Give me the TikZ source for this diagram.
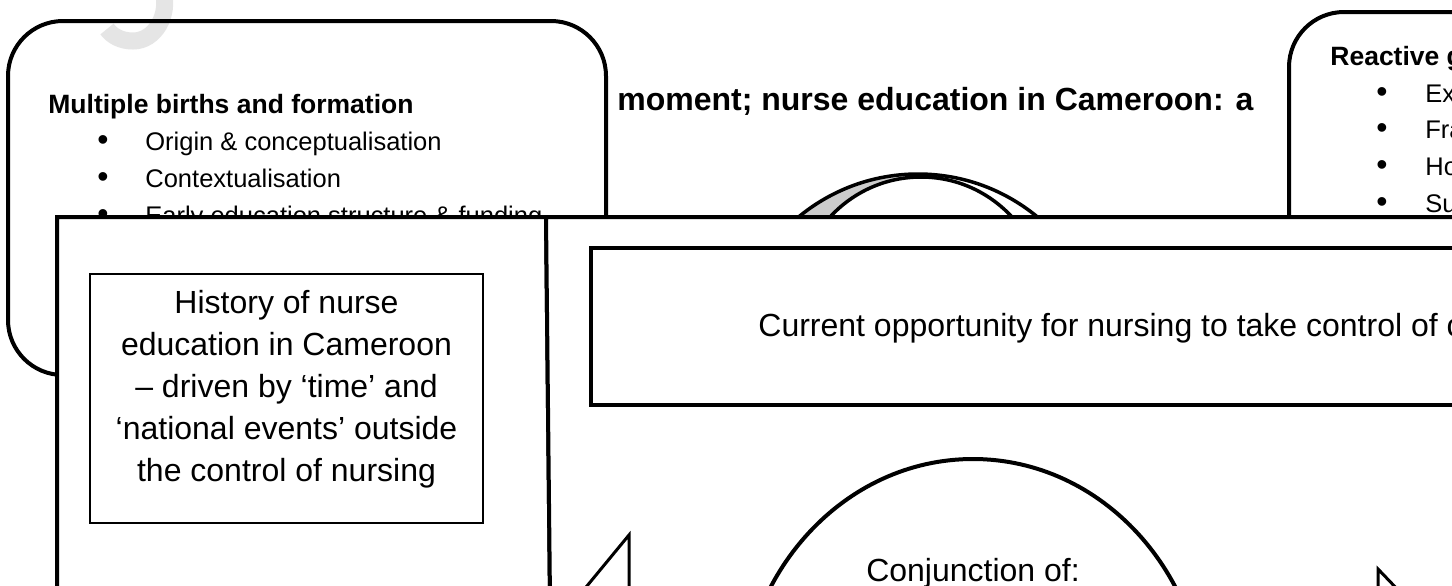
\documentclass[tikz,border=0pt]{standalone}
\usepackage{fontspec}
\setmainfont{Liberation Sans}
\tikzset{
  roundbox/.style={draw,line width=2pt,fill=white,rounded corners=27.5pt},
  panel/.style={draw,line width=2pt,fill=white},
  heading/.style={anchor=base west,inner sep=0pt,font=\bfseries\fontsize{13.25}{16}\selectfont},
  item/.style={anchor=base west,inner sep=0pt,font=\fontsize{12.75}{15}\selectfont},
  dot/.style={anchor=base,inner sep=0pt,font=\fontsize{16}{18}\selectfont},
  bigtext/.style={inner sep=0pt,font=\fontsize{16}{21}\selectfont},
}
\begin{document}
\begin{tikzpicture}[x=0.5pt,y=-0.5pt]
\useasboundingbox (0,0) rectangle (1452,585);
\clip (0,0) rectangle (1452,585);

% top left box, watermark between fill and border
\fill[roundbox,draw=none] (8,21) rectangle (606,375);
\draw[gray!20,line width=8.5pt] (163,-10) .. controls (170,15) and (155,41) .. (133,41) .. controls (121,41) and (112,36) .. (107,29);
\draw[roundbox,fill=none] (8,21) rectangle (606,375);
\node[heading] (births) at (48,113) {Multiple births and formation};
\node[dot] (d1) at (103,150) {•};
\node[item] (origin) at (145,150) {Origin \& conceptualisation};
\node[dot] (d2) at (103,187) {•};
\node[item] (context) at (145,187) {Contextualisation};
\node[dot] (d3) at (103,224) {•};
\node[item] (early) at (145,224) {Early education structure \& funding};

% top right box
\draw[roundbox] (1289,12) rectangle (1700,420);
\node[heading] (reactive) at (1330,65) {Reactive g};
\node[dot] (e1) at (1382,102) {•};
\node[item] (ex) at (1425,102) {Ex};
\node[dot] (e2) at (1382,138) {•};
\node[item] (fra) at (1425,138) {Fra};
\node[dot] (e3) at (1382,175) {•};
\node[item] (ho) at (1425,175) {Ho};
\node[dot] (e4) at (1382,212) {•};
\node[item] (su) at (1425,212) {Su};

\node[anchor=base west,inner sep=0pt,font=\bfseries\fontsize{16}{19}\selectfont] (title) at (617,110) {moment; nurse education in Cameroon: a};

% circular arrow behind the panels
\begin{scope}
\clip (0,0) rectangle (918,217);
\fill[gray!40] (918,361.5) circle[radius=187.5];
\end{scope}
\filldraw[fill=white,line width=1.75pt] (921,300.5) circle[radius=123.5];
\draw[line width=1.75pt] (918,361.5) circle[radius=187.5];

% panels
\draw[panel] (57,217) -- (546,217) -- (550,600) -- (57,600) -- cycle;
\draw[panel] (546,217) -- (1500,217) -- (1500,600) -- (550,600) -- cycle;

\node[draw,line width=0.75pt,minimum width=196.5pt,minimum height=124.5pt] (histbox) at (286.5,398.5) {};
\node[bigtext,align=center] (history) at (286.5,389.5) {History of nurse\\education in Cameroon\\– driven by ‘time’ and\\‘national events’ outside\\the control of nursing};

\draw[line width=2pt] (591,248) rectangle (1600,405);
\node[bigtext,anchor=base west] (current) at (758,336) {Current opportunity for nursing to take control of c};

\draw[line width=2pt,fill=white] (973,713) ellipse[x radius=233,y radius=254];
\node[bigtext,anchor=base] (conj) at (973,581) {Conjunction of:};

\draw[line width=1.5pt] (582,592) -- (629,535) -- (629,592);
\draw[line width=1.5pt] (1378,592) -- (1378,569) -- (1400,592);

\end{tikzpicture}
\end{document}
